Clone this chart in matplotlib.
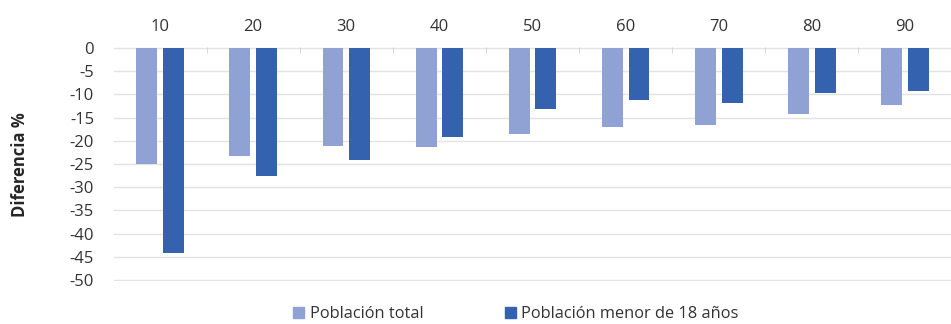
import matplotlib
matplotlib.use("Agg")
import matplotlib.pyplot as plt
import numpy as np
from matplotlib.patches import Patch

# Data: percentage difference per threshold
categories = ["10", "20", "30", "40", "50", "60", "70", "80", "90"]
poblacion_total = [-25.1, -23.3, -21.1, -21.3, -18.5, -17.1, -16.6, -14.3, -12.2]
poblacion_menor_18 = [-44.1, -27.6, -24.2, -19.1, -13.1, -11.1, -11.9, -9.6, -9.3]
y_ticks = list(range(0, -55, -5))

light = "#8FA2D3"
dark = "#3462AF"
grid_c = "#E3E3E3"
text_c = "#333333"
font = ["Open Sans", "DejaVu Sans"]
plt.rcParams["font.family"] = font

W, H = 951, 324
fig = plt.figure(figsize=(W / 100, H / 100), dpi=100)

ppu = 4.64  # pixels per unit on y
y_top_px = 48 - 0.3 * ppu
y_bot_px = 280 + 0.3 * ppu
left_px, right_px = 113.5, 951.6
ax = fig.add_axes([left_px / W, 1 - y_bot_px / H,
                   (right_px - left_px) / W, (y_bot_px - y_top_px) / H])

x = np.arange(len(categories))
bw = 0.225
off = 0.143
ax.bar(x - off, poblacion_total, width=bw, color=light, zorder=3)
ax.bar(x + off, poblacion_menor_18, width=bw, color=dark, zorder=3)

ax.set_xlim(-0.5, len(categories) - 0.5)
ax.set_ylim(-50.3, 0.3)
ax.set_yticks(y_ticks)
ax.set_yticklabels([str(v) for v in y_ticks])
for v in y_ticks:
    ax.axhline(v, color=grid_c, lw=1.0, zorder=1)

ax.xaxis.set_ticks_position("top")
ax.set_xticks(x)
ax.set_xticklabels(categories)
ax.set_xticks(np.arange(0.5, len(categories) - 0.5, 1), minor=True)
ax.tick_params(axis="x", which="major", length=0, pad=8, labelsize=12,
               labelcolor=text_c, top=False, labeltop=True, bottom=False,
               labelbottom=False)
ax.tick_params(axis="x", which="minor", direction="in", length=4,
               color="#D0D0D0", top=True, bottom=False)
ax.tick_params(axis="y", length=0, pad=14, labelsize=12, labelcolor=text_c)
for s in ax.spines.values():
    s.set_visible(False)

fig.text(20 / W, 1 - 165 / H, "Diferencia %", rotation=90, ha="center",
         va="center", fontsize=12, fontweight="bold", color="#262626")

handles = [Patch(color=light, label="Población total"),
           Patch(color=dark, label="Población menor de 18 años")]
fig.legend(handles=handles, loc="center", bbox_to_anchor=(516 / W, 1 - 314 / H),
           ncol=2, frameon=False, fontsize=11.8, handlelength=0.65,
           handleheight=0.65, handletextpad=0.35, columnspacing=5.0,
           labelcolor=text_c, borderaxespad=0, borderpad=0)

fig.savefig("out.png", dpi=100, facecolor="white")
